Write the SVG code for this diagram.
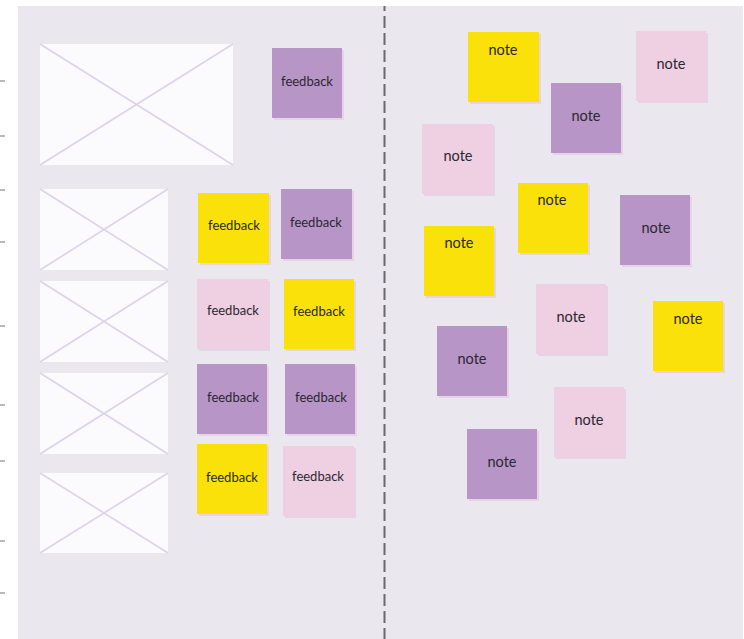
<svg xmlns="http://www.w3.org/2000/svg" width="744" height="639" viewBox="0 0 744 639">
<style>
.bg{fill:#ebe7ef}
.img{fill:#fbfafd}
.x{stroke:#dcd3ea;stroke-width:1.6;fill:none}
.sh{fill:#e6d4e6}
.y{fill:#f9e109}
.p{fill:#b795c6}
.k{fill:#efcfe2}
.t{font-family:Lato,"Noto Sans",sans-serif;fill:#2b2830;text-anchor:middle;dominant-baseline:central}
.fb{font-size:13px}
.nt{font-size:14.5px}
.tick{stroke:#8a8a8a;stroke-width:1.2}
</style>
<rect x="0" y="0" width="744" height="639" fill="#ffffff"/>
<rect class="bg" x="18" y="6" width="725" height="633"/>
<g id="ticks">
<line class="tick" x1="0" y1="81" x2="5" y2="81"/>
<line class="tick" x1="0" y1="136" x2="5" y2="136"/>
<line class="tick" x1="0" y1="190" x2="5" y2="190"/>
<line class="tick" x1="0" y1="242" x2="5" y2="242"/>
<line class="tick" x1="0" y1="326" x2="5" y2="326"/>
<line class="tick" x1="0" y1="405" x2="5" y2="405"/>
<line class="tick" x1="0" y1="461" x2="5" y2="461"/>
<line class="tick" x1="0" y1="541" x2="5" y2="541"/>
<line class="tick" x1="0" y1="593" x2="5" y2="593"/>
</g>
<g id="connectors">
<line x1="384.5" y1="6" x2="384.5" y2="639" stroke="#6b6b6b" stroke-width="2" stroke-dasharray="12 5" stroke-dashoffset="7"/>
</g>
<g id="img1"><rect class="img" x="40" y="44" width="193" height="121"/><path class="x" d="M40 44L233 165M233 44L40 165"/></g>
<g id="img2"><rect class="img" x="40" y="189" width="128" height="81"/><path class="x" d="M40 189L168 270M168 189L40 270"/></g>
<g id="img3"><rect class="img" x="40" y="281" width="128" height="81"/><path class="x" d="M40 281L168 362M168 281L40 362"/></g>
<g id="img4"><rect class="img" x="40" y="373" width="128" height="81"/><path class="x" d="M40 373L168 454M168 373L40 454"/></g>
<g id="img5"><rect class="img" x="40" y="473" width="128" height="80"/><path class="x" d="M40 473L168 553M168 473L40 553"/></g>

<g id="fb1"><rect class="sh" x="274" y="50" width="70" height="70"/><rect class="p" x="272" y="48" width="70" height="70"/><text class="t fb" x="307" y="81">feedback</text></g>
<g id="fb2"><rect class="sh" x="200" y="195" width="71" height="70"/><rect class="y" x="198" y="193" width="71" height="70"/><text class="t fb" x="234" y="225">feedback</text></g>
<g id="fb3"><rect class="sh" x="283" y="191" width="71" height="70"/><rect class="p" x="281" y="189" width="71" height="70"/><text class="t fb" x="316" y="222">feedback</text></g>
<g id="fb4"><rect class="sh" x="199" y="281" width="71" height="70"/><rect class="k" x="197" y="279" width="71" height="70"/><text class="t fb" x="233" y="310">feedback</text></g>
<g id="fb5"><rect class="sh" x="286" y="281" width="70" height="70"/><rect class="y" x="284" y="279" width="70" height="70"/><text class="t fb" x="319" y="311">feedback</text></g>
<g id="fb6"><rect class="sh" x="199" y="366" width="70" height="70"/><rect class="p" x="197" y="364" width="70" height="70"/><text class="t fb" x="233" y="397">feedback</text></g>
<g id="fb7"><rect class="sh" x="287" y="366" width="70" height="70"/><rect class="p" x="285" y="364" width="70" height="70"/><text class="t fb" x="321" y="397">feedback</text></g>
<g id="fb8"><rect class="sh" x="199" y="446" width="70" height="70"/><rect class="y" x="197" y="444" width="70" height="70"/><text class="t fb" x="232" y="477">feedback</text></g>
<g id="fb9"><rect class="sh" x="285" y="448" width="71" height="70"/><rect class="k" x="283" y="446" width="71" height="70"/><text class="t fb" x="318" y="476">feedback</text></g>

<g id="n1"><rect class="sh" x="470" y="34" width="71" height="70"/><rect class="y" x="468" y="32" width="71" height="70"/><text class="t nt" x="503" y="49">note</text></g>
<g id="n2"><rect class="sh" x="638" y="33" width="70" height="70"/><rect class="k" x="636" y="31" width="70" height="70"/><text class="t nt" x="671" y="63">note</text></g>
<g id="n3"><rect class="sh" x="553" y="85" width="70" height="70"/><rect class="p" x="551" y="83" width="70" height="70"/><text class="t nt" x="586" y="115">note</text></g>
<g id="n4"><rect class="sh" x="424" y="126" width="71" height="70"/><rect class="k" x="422" y="124" width="71" height="70"/><text class="t nt" x="458" y="155">note</text></g>
<g id="n5"><rect class="sh" x="520" y="185" width="70" height="70"/><rect class="y" x="518" y="183" width="70" height="70"/><text class="t nt" x="552" y="199">note</text></g>
<g id="n6"><rect class="sh" x="622" y="197" width="70" height="70"/><rect class="p" x="620" y="195" width="70" height="70"/><text class="t nt" x="656" y="227">note</text></g>
<g id="n7"><rect class="sh" x="426" y="228" width="70" height="70"/><rect class="y" x="424" y="226" width="70" height="70"/><text class="t nt" x="459" y="242">note</text></g>
<g id="n8"><rect class="sh" x="538" y="286" width="70" height="70"/><rect class="k" x="536" y="284" width="70" height="70"/><text class="t nt" x="571" y="316">note</text></g>
<g id="n9"><rect class="sh" x="655" y="303" width="70" height="70"/><rect class="y" x="653" y="301" width="70" height="70"/><text class="t nt" x="688" y="318">note</text></g>
<g id="n10"><rect class="sh" x="439" y="328" width="70" height="70"/><rect class="p" x="437" y="326" width="70" height="70"/><text class="t nt" x="472" y="358">note</text></g>
<g id="n11"><rect class="sh" x="556" y="389" width="70" height="70"/><rect class="k" x="554" y="387" width="70" height="70"/><text class="t nt" x="589" y="419">note</text></g>
<g id="n12"><rect class="sh" x="469" y="431" width="70" height="70"/><rect class="p" x="467" y="429" width="70" height="70"/><text class="t nt" x="502" y="461">note</text></g>
</svg>
